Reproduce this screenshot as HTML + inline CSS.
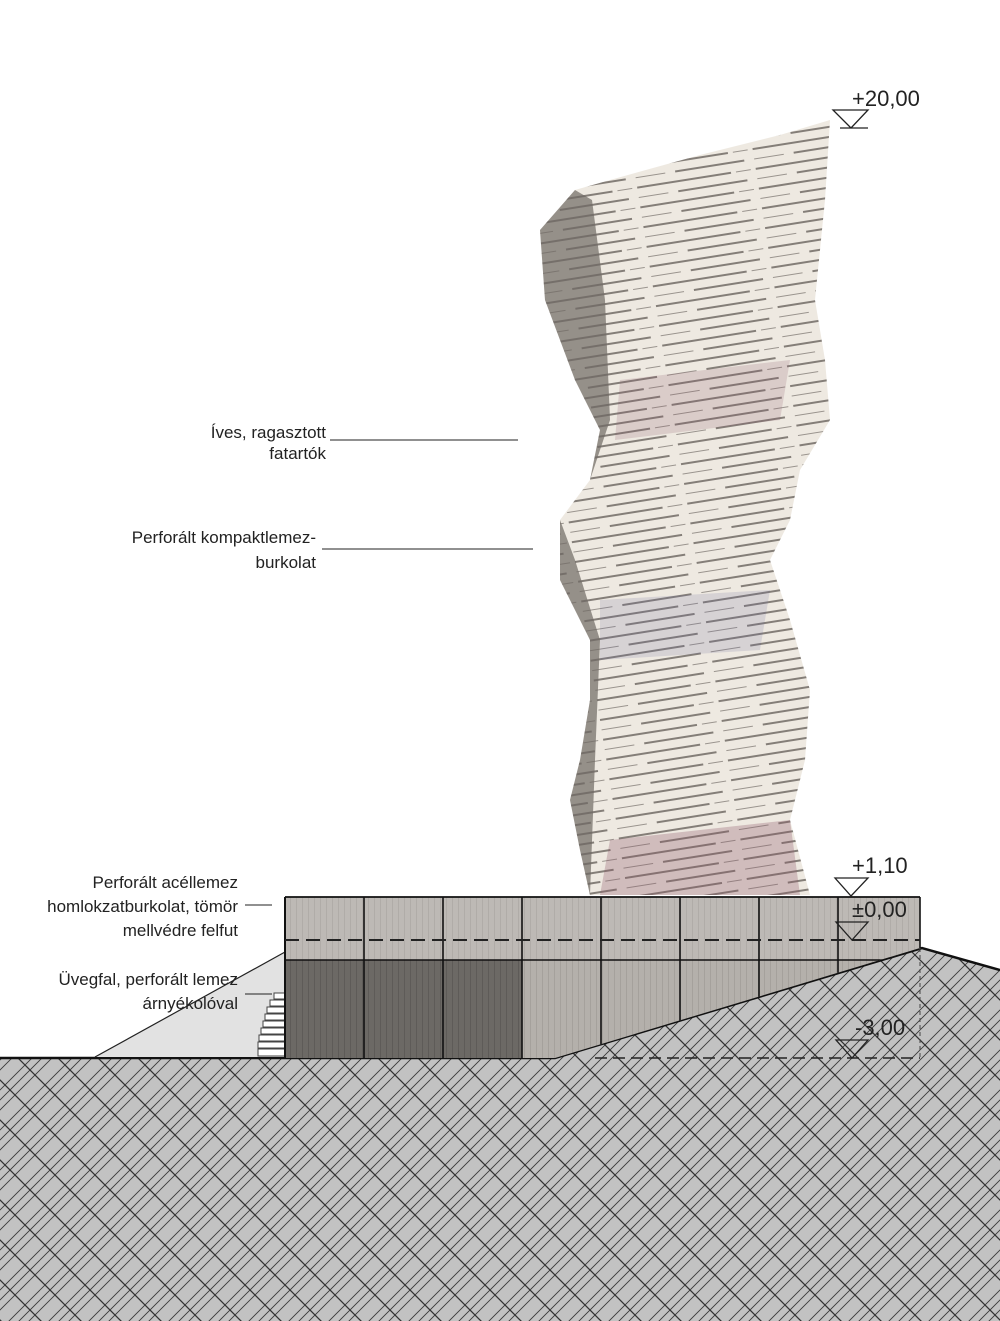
<!DOCTYPE html>
<html><head><meta charset="utf-8"><style>
html,body{margin:0;padding:0;background:#fff}
svg{display:block}
text{font-family:"Liberation Sans",sans-serif;fill:#222}
</style></head><body>
<svg width="1000" height="1321" viewBox="0 0 1000 1321" xmlns="http://www.w3.org/2000/svg">
<defs>
<pattern id="hatch" width="40" height="40" patternUnits="userSpaceOnUse">
<rect width="40" height="40" fill="#c2c2c2"/>
<path d="M-10,10 L10,-10 M-10,20 L20,-10 M-10,30 L30,-10 M-10,40 L40,-10 M0,50 L50,0 M10,50 L50,10 M20,50 L50,20 M30,50 L50,30" stroke="#3a3a3a" stroke-width="0.9"/>
<path d="M0,0 L40,40 M-20,20 L20,60 M20,-20 L60,20" stroke="#333" stroke-width="1.3"/>
</pattern>
<pattern id="stripes" width="120" height="20" patternUnits="userSpaceOnUse" patternTransform="rotate(-9)">
<rect width="120" height="20" fill="#eee9e1"/>
<rect x="0" y="4" width="95" height="2" fill="#847e78"/>
<rect x="100" y="4.5" width="15" height="1" fill="#9a948e"/>
<rect x="40" y="14" width="70" height="2" fill="#847e78"/>
<rect x="0" y="14.5" width="30" height="1" fill="#9a948e"/>
</pattern>
<pattern id="wood" width="6" height="20" patternUnits="userSpaceOnUse">
<rect width="6" height="20" fill="#b4b0ab"/>
<rect x="2" width="1" height="20" fill="#a5a19c"/>
</pattern>
<pattern id="woodd" width="6" height="20" patternUnits="userSpaceOnUse">
<rect width="6" height="20" fill="#6c6965"/>
<rect x="2" width="1" height="20" fill="#5e5b58"/>
</pattern>
</defs>

<polygon points="575,190 610,180 700,155 780,135 830,120 825,200 815,300 825,360 830,420 800,470 790,520 770,560 790,620 810,690 805,760 790,820 810,895 590,895 580,850 570,800 580,760 590,700 590,640 560,580 560,520 590,480 600,430 575,380 545,300 540,230" fill="url(#stripes)"/>
<path d="M540,230 L575,190 L592,200 L605,300 L610,420 L590,480 L560,520 L575,560 L600,640 L595,760 L590,895 L580,850 L570,800 L580,760 L590,700 L590,640 L560,580 L560,520 L590,480 L600,430 L575,380 L545,300 Z" fill="#6f6964" opacity="0.7"/>
<path d="M620,380 L790,360 L780,420 L615,440 Z" fill="#8b5a6a" opacity="0.2"/>
<path d="M600,600 L770,590 L760,650 L600,660 Z" fill="#6a6b9a" opacity="0.18"/>
<path d="M610,840 L790,820 L800,895 L600,895 Z" fill="#8a5566" opacity="0.3"/>

<polygon points="0,1058 555,1058 922,948 1000,970 1000,1321 0,1321" fill="url(#hatch)"/>
<polyline points="0,1058 555,1058 922,948 1000,970" fill="none" stroke="#111" stroke-width="2.5"/>
<polygon points="95,1057 285,952 285,1057" fill="#e2e2e2"/>
<line x1="95" y1="1057" x2="285" y2="952" stroke="#222" stroke-width="1.2"/>
<g fill="#fff" stroke="#444" stroke-width="1">
<rect x="274" y="993" width="11" height="6"/><rect x="270" y="1000" width="15" height="6"/><rect x="267" y="1007" width="18" height="6"/><rect x="265" y="1014" width="20" height="6"/><rect x="263" y="1021" width="22" height="6"/><rect x="261" y="1028" width="24" height="6"/><rect x="259" y="1035" width="26" height="6"/><rect x="258" y="1042" width="27" height="6"/><rect x="258" y="1049" width="27" height="7"/>
</g>

<clipPath id="bclip"><polygon points="285,897 920,897 920,948 555,1058 285,1058"/></clipPath>
<g clip-path="url(#bclip)">
<rect x="285" y="897" width="635" height="161" fill="url(#wood)"/>
<rect x="285" y="897" width="635" height="63" fill="#ffffff" opacity="0.12"/>
<rect x="285" y="960" width="237" height="98" fill="url(#woodd)"/>
<g stroke="#111" stroke-width="1.6">
<line x1="364" y1="897" x2="364" y2="1058"/><line x1="443" y1="897" x2="443" y2="1058"/><line x1="522" y1="897" x2="522" y2="1058"/><line x1="601" y1="897" x2="601" y2="1058"/><line x1="680" y1="897" x2="680" y2="1058"/><line x1="759" y1="897" x2="759" y2="1058"/><line x1="838" y1="897" x2="838" y2="1058"/>
<line x1="285" y1="960" x2="920" y2="960"/>
</g>
</g>
<line x1="285" y1="897" x2="920" y2="897" stroke="#111" stroke-width="1.8"/>
<line x1="285" y1="897" x2="285" y2="1058" stroke="#111" stroke-width="2"/>
<line x1="920" y1="897" x2="920" y2="948" stroke="#111" stroke-width="1.6"/>
<line x1="285" y1="940" x2="920" y2="940" stroke="#222" stroke-width="2" stroke-dasharray="14,7"/>
<line x1="595" y1="1058" x2="920" y2="1058" stroke="#222" stroke-width="1.5" stroke-dasharray="12,6"/>
<line x1="920" y1="948" x2="920" y2="1058" stroke="#444" stroke-width="1" stroke-dasharray="4,3"/>

<g fill="none" stroke="#222" stroke-width="1.3">
<path d="M833,110 L868,110 L851,128 Z M851,128 L868,128 M840,128 L851,128"/>
<path d="M835,878 L868,878 L851,896 Z"/>
<path d="M836,922 L868,922 L852,940 Z M836,922 L852,922"/>
<path d="M836,1040 L868,1040 L852,1058 Z"/>
</g>
<text x="852" y="106" font-size="22">+20,00</text>
<text x="852" y="873" font-size="22">+1,10</text>
<text x="852" y="917" font-size="22">±0,00</text>
<text x="855" y="1035" font-size="22">-3,00</text>

<g font-size="17" text-anchor="end">
<text x="326" y="438">Íves, ragasztott</text>
<text x="326" y="459">fatartók</text>
<text x="316" y="543">Perforált kompaktlemez-</text>
<text x="316" y="568">burkolat</text>
<text x="238" y="888">Perforált acéllemez</text>
<text x="238" y="912">homlokzatburkolat, tömör</text>
<text x="238" y="936">mellvédre felfut</text>
<text x="238" y="985">Üvegfal, perforált lemez</text>
<text x="238" y="1009">árnyékolóval</text>
</g>
<g stroke="#222" stroke-width="1">
<line x1="330" y1="440" x2="518" y2="440"/>
<line x1="322" y1="549" x2="533" y2="549"/>
<line x1="245" y1="905" x2="272" y2="905"/>
<line x1="245" y1="994" x2="272" y2="994"/>
</g>
</svg>
</body></html>
